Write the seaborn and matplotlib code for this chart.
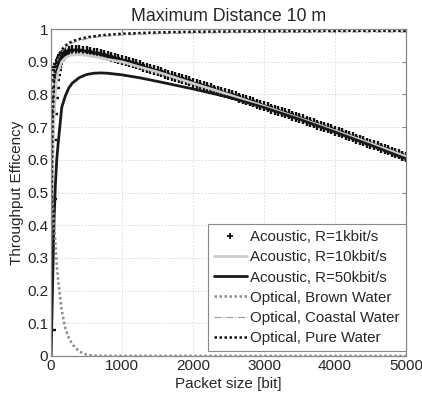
import pandas as pd
import matplotlib
matplotlib.use("Agg")
import matplotlib.pyplot as plt
import seaborn as sns

# packet sizes [bit] for the line series
packet_line = [0, 20, 40, 60, 80, 100, 150, 200, 250, 300, 400, 500, 600, 700,
               800, 1000, 1250, 1500, 2000, 2500, 3000, 3500, 4000, 4500, 5000]

acoustic_10k = [0.0, 0.55, 0.72, 0.80, 0.845, 0.87, 0.90, 0.912, 0.918, 0.921,
                0.922, 0.920, 0.916, 0.912, 0.907, 0.900, 0.884, 0.869, 0.834,
                0.800, 0.764, 0.727, 0.689, 0.650, 0.610]
acoustic_50k = [0.0, 0.20, 0.40, 0.52, 0.60, 0.65, 0.76, 0.795, 0.82, 0.835,
                0.852, 0.861, 0.865, 0.866, 0.865, 0.860, 0.851, 0.840, 0.817,
                0.792, 0.760, 0.724, 0.685, 0.645, 0.603]
optical_brown = [0.50, 0.47, 0.42, 0.35, 0.28, 0.23, 0.14, 0.085, 0.055, 0.035,
                 0.013, 0.004, 0.001, 0.0, 0.0, 0.0, 0.0, 0.0, 0.0, 0.0, 0.0,
                 0.0, 0.0, 0.0, 0.0]
optical_coastal = [0.25, 0.66, 0.82, 0.875, 0.895, 0.91, 0.93, 0.943, 0.952,
                   0.958, 0.965, 0.970, 0.974, 0.977, 0.979, 0.982, 0.984,
                   0.986, 0.988, 0.989, 0.990, 0.990, 0.991, 0.991, 0.991]
optical_pure = [0.30, 0.70, 0.84, 0.89, 0.905, 0.918, 0.937, 0.949, 0.957,
                0.963, 0.970, 0.975, 0.978, 0.981, 0.983, 0.986, 0.988, 0.990,
                0.992, 0.993, 0.994, 0.994, 0.995, 0.995, 0.995]

# packet sizes [bit] for the 1 kbit/s marker series (every 50 bit after 300)
packet_mark = [1, 10, 20, 30, 40, 50, 60, 70, 80, 90, 100, 120, 140, 160, 180,
               200, 250] + list(range(300, 5001, 50))
acoustic_1k = [0.08, 0.48, 0.66, 0.74, 0.79, 0.82, 0.845, 0.86, 0.875, 0.885,
               0.893, 0.905, 0.913, 0.920, 0.925, 0.928, 0.933,
               0.935, 0.936, 0.935, 0.934, 0.932, 0.930, 0.928, 0.926, 0.923,
               0.921, 0.918, 0.915, 0.912, 0.909, 0.906, 0.903, 0.899, 0.896,
               0.892, 0.889, 0.885, 0.882, 0.878, 0.875, 0.871, 0.868, 0.864,
               0.861, 0.857, 0.854, 0.850, 0.847, 0.843, 0.840, 0.836, 0.833,
               0.829, 0.826, 0.822, 0.819, 0.815, 0.812, 0.808, 0.805, 0.801,
               0.798, 0.794, 0.790, 0.786, 0.783, 0.779, 0.776, 0.772, 0.769,
               0.765, 0.761, 0.757, 0.754, 0.750, 0.746, 0.742, 0.739, 0.735,
               0.731, 0.727, 0.724, 0.720, 0.716, 0.712, 0.708, 0.704, 0.701,
               0.697, 0.693, 0.689, 0.685, 0.681, 0.677, 0.673, 0.669, 0.665,
               0.661, 0.657, 0.653, 0.649, 0.645, 0.641, 0.637, 0.633, 0.629,
               0.625, 0.621, 0.617, 0.613, 0.609]

sns.set_style("white")
plt.rcParams['font.family'] = ['Liberation Sans', 'DejaVu Sans']

fig = plt.figure(figsize=(4.22, 3.99), dpi=100)
ax = fig.add_axes([0.121, 0.108, 0.841, 0.819])

sns.lineplot(x=packet_mark, y=acoustic_1k, ax=ax, color="black", linestyle="none",
             marker="+", markersize=6.5, markeredgewidth=1.7,
             markeredgecolor="#111111", label="Acoustic, R=1kbit/s")
sns.lineplot(x=packet_line, y=acoustic_10k, ax=ax, color="#cccccc", linewidth=2.0,
             label="Acoustic, R=10kbit/s")
sns.lineplot(x=packet_line, y=acoustic_50k, ax=ax, color="#1a1a1a", linewidth=2.0,
             label="Acoustic, R=50kbit/s")
sns.lineplot(x=packet_line, y=optical_brown, ax=ax, color="#8c8c8c", linewidth=1.8,
             linestyle=(0, (1, 1)), label="Optical, Brown Water")
sns.lineplot(x=packet_line, y=optical_coastal, ax=ax, color="#9a9a9a", linewidth=0.8,
             linestyle="-.", label="Optical, Coastal Water")
sns.lineplot(x=packet_line, y=optical_pure, ax=ax, color="#111111", linewidth=1.8,
             linestyle=(0, (1, 1)), label="Optical, Pure Water")

ax.set_xlim(0, 5000)
ax.set_ylim(0, 1)
ax.set_xticks([0, 1000, 2000, 3000, 4000, 5000])
ax.set_yticks([i / 10 for i in range(11)])
ax.set_yticklabels(["0"] + [f"{i / 10:.1f}" for i in range(1, 10)] + ["1"])
ax.grid(True, color="#d8d8d8", linestyle=(0, (2, 2)), linewidth=0.6)
ax.tick_params(direction="in", length=3, labelsize=11, color="#888888",
               top=True, right=True, pad=2)
for sp in ax.spines.values():
    sp.set_color("#888888")
    sp.set_linewidth(0.9)

ax.set_title("Maximum Distance 10 m", fontsize=12.8, pad=6)
ax.set_xlabel("Packet size [bit]", fontsize=11, labelpad=3)
ax.set_ylabel("Throughput Efficency", fontsize=11, labelpad=2)

leg = ax.legend(loc="lower right", bbox_to_anchor=(1.0, 0.015), fontsize=10.8,
                frameon=True, fancybox=False, edgecolor="#888888", framealpha=1,
                borderpad=0.4, labelspacing=0.41, handlelength=2.2,
                handletextpad=0.25, borderaxespad=0)
leg.get_frame().set_linewidth(0.8)
leg.legend_handles[0].set_markersize(5)
leg.legend_handles[0].set_markeredgewidth(1.3)

fig.savefig("out.png", dpi=100)
